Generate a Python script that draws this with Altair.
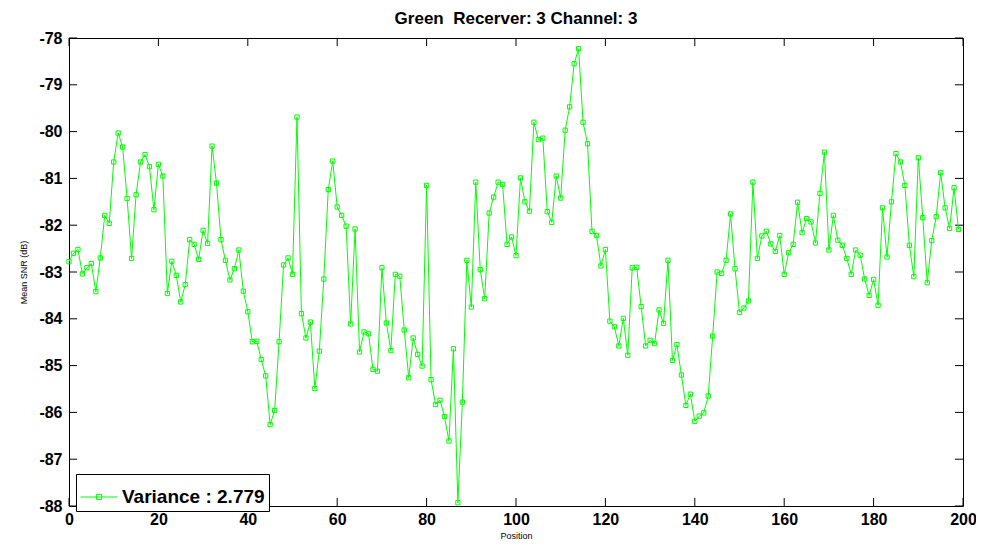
import altair as alt
import pandas as pd

# ---- data ----
positions = list(range(200))
snr = [
    -82.78, -82.60, -82.52, -83.04, -82.91, -82.82, -83.42, -82.70, -81.79, -81.96,
    -80.65, -80.03, -80.33, -81.43, -82.71, -81.35, -80.65, -80.49, -80.75, -81.67,
    -80.70, -80.95, -83.46, -82.77, -83.07, -83.64, -83.27, -82.31, -82.41, -82.73,
    -82.11, -82.39, -80.31, -81.10, -82.31, -82.75, -83.17, -82.93, -82.53, -83.41,
    -83.85, -84.49, -84.48, -84.87, -85.22, -86.26, -85.96, -84.49, -82.85, -82.70,
    -83.05, -79.69, -83.89, -84.41, -84.07, -85.49, -84.69, -83.15, -81.24, -80.63,
    -81.61, -81.79, -82.02, -84.11, -82.08, -84.71, -84.28, -84.32, -85.08, -85.12,
    -82.91, -84.09, -84.68, -83.05, -83.09, -84.24, -85.26, -84.41, -84.76, -85.01,
    -81.15, -85.30, -85.83, -85.74, -86.09, -86.61, -84.64, -87.93, -85.78, -82.75,
    -83.75, -81.08, -82.95, -83.57, -81.74, -81.40, -81.08, -81.13, -82.41, -82.25,
    -82.65, -80.99, -81.50, -81.70, -79.80, -80.17, -80.14, -81.71, -81.94, -80.95,
    -81.42, -79.97, -79.47, -78.55, -78.23, -79.80, -80.26, -82.13, -82.22, -82.87,
    -82.52, -84.05, -84.17, -84.58, -83.99, -84.78, -82.91, -82.90, -83.74, -84.58,
    -84.46, -84.53, -83.81, -84.10, -82.75, -84.89, -84.55, -85.20, -85.85, -85.61,
    -86.19, -86.08, -86.01, -85.65, -84.37, -83.00, -83.03, -82.75, -81.76, -82.93,
    -83.86, -83.77, -83.62, -81.08, -82.71, -82.23, -82.13, -82.40, -82.56, -82.22,
    -83.05, -82.59, -82.41, -81.51, -82.16, -81.86, -81.93, -82.38, -81.32, -80.44,
    -82.53, -81.79, -82.32, -82.43, -82.71, -83.05, -82.53, -82.64, -83.15, -83.50,
    -83.16, -83.71, -81.63, -82.68, -81.50, -80.47, -80.65, -81.15, -82.43, -83.10,
    -80.56, -81.84, -83.23, -82.33, -81.82, -80.88, -81.63, -82.07, -81.20, -82.09,
]
series_name = "Variance : 2.779"
x_ticks = [0, 20, 40, 60, 80, 100, 120, 140, 160, 180, 200]
y_ticks = [-88, -87, -86, -85, -84, -83, -82, -81, -80, -79, -78]
title_text = "Green\u00a0 Recerver: 3 Channel: 3"

FONT = "Liberation Sans, Arial, Helvetica, sans-serif"
GREEN = "#00ff00"
W, H = 894, 468
TICK = 8

df = pd.DataFrame({"pos": positions, "snr": snr, "series": [series_name] * len(positions)})
dfx = pd.DataFrame({"t": x_ticks})
dfy = pd.DataFrame({"v": y_ticks})

xs = alt.Scale(domain=[0, 200], nice=False, zero=False)
ys = alt.Scale(domain=[-88, -78], nice=False, zero=False)

xaxis = alt.Axis(values=x_ticks, ticks=False, domain=False, grid=False,
                 labelFont=FONT, labelFontSize=16, labelFontWeight="bold", labelColor="black",
                 labelPadding=5, title="Position", titleFont=FONT, titleFontSize=9,
                 titleFontWeight="normal", titleColor="black", titlePadding=4, labelFlush=False,
                 labelExpr="'' + datum.value")
yaxis = alt.Axis(values=y_ticks, ticks=False, domain=False, grid=False,
                 labelFont=FONT, labelFontSize=16, labelFontWeight="bold", labelColor="black",
                 labelPadding=7, title="Mean SNR (dB)", titleFont=FONT, titleFontSize=9,
                 titleFontWeight="normal", titleColor="black", titlePadding=10, labelFlush=False,
                 labelExpr="'' + datum.value")

legend_symbol = "M-1,0L1,0M-0.14,-0.14L0.14,-0.14L0.14,0.14L-0.14,0.14Z"

line = alt.Chart(df).mark_line(strokeWidth=1).encode(
    x=alt.X("pos:Q", scale=xs, axis=xaxis),
    y=alt.Y("snr:Q", scale=ys, axis=yaxis),
    color=alt.Color("series:N", scale=alt.Scale(range=[GREEN]),
                    legend=alt.Legend(title=None, orient="none", legendX=7, legendY=436,
                                      symbolType=legend_symbol, symbolSize=1369,
                                      symbolStrokeColor=GREEN, symbolFillColor="transparent",
                                      symbolStrokeWidth=1, labelFont=FONT, labelFontSize=19,
                                      labelFontWeight="bold", labelColor="black", labelOffset=4,
                                      strokeColor="black", fillColor="white", padding=4)),
)

pts = alt.Chart(df).mark_point(shape="square", filled=False, size=18, strokeWidth=1, color=GREEN,
                               opacity=1).encode(
    x=alt.X("pos:Q", scale=xs, axis=xaxis),
    y=alt.Y("snr:Q", scale=ys, axis=yaxis),
)

tick_bottom = alt.Chart(dfx).mark_rule(color="black", strokeWidth=1).encode(
    x=alt.X("t:Q", scale=xs, axis=xaxis), y=alt.value(H), y2=alt.value(H - TICK))
tick_top = alt.Chart(dfx).mark_rule(color="black", strokeWidth=1).encode(
    x=alt.X("t:Q", scale=xs, axis=xaxis), y=alt.value(0), y2=alt.value(TICK))
tick_left = alt.Chart(dfy).mark_rule(color="black", strokeWidth=1).encode(
    y=alt.Y("v:Q", scale=ys, axis=yaxis), x=alt.value(0), x2=alt.value(TICK))
tick_right = alt.Chart(dfy).mark_rule(color="black", strokeWidth=1).encode(
    y=alt.Y("v:Q", scale=ys, axis=yaxis), x=alt.value(W), x2=alt.value(W - TICK))

chart = alt.layer(tick_bottom, tick_top, tick_left, tick_right, line, pts).properties(
    width=W, height=H,
    title=alt.TitleParams(title_text, font=FONT, fontSize=17, fontWeight="bold", color="black",
                          anchor="middle", offset=2),
    padding={"left": 61, "top": 30, "right": 13, "bottom": 33},
    autosize="none",
    background="white",
).configure_view(stroke="black", strokeWidth=1)

chart.save("out.html", embed_options={"renderer": "svg", "actions": False})
